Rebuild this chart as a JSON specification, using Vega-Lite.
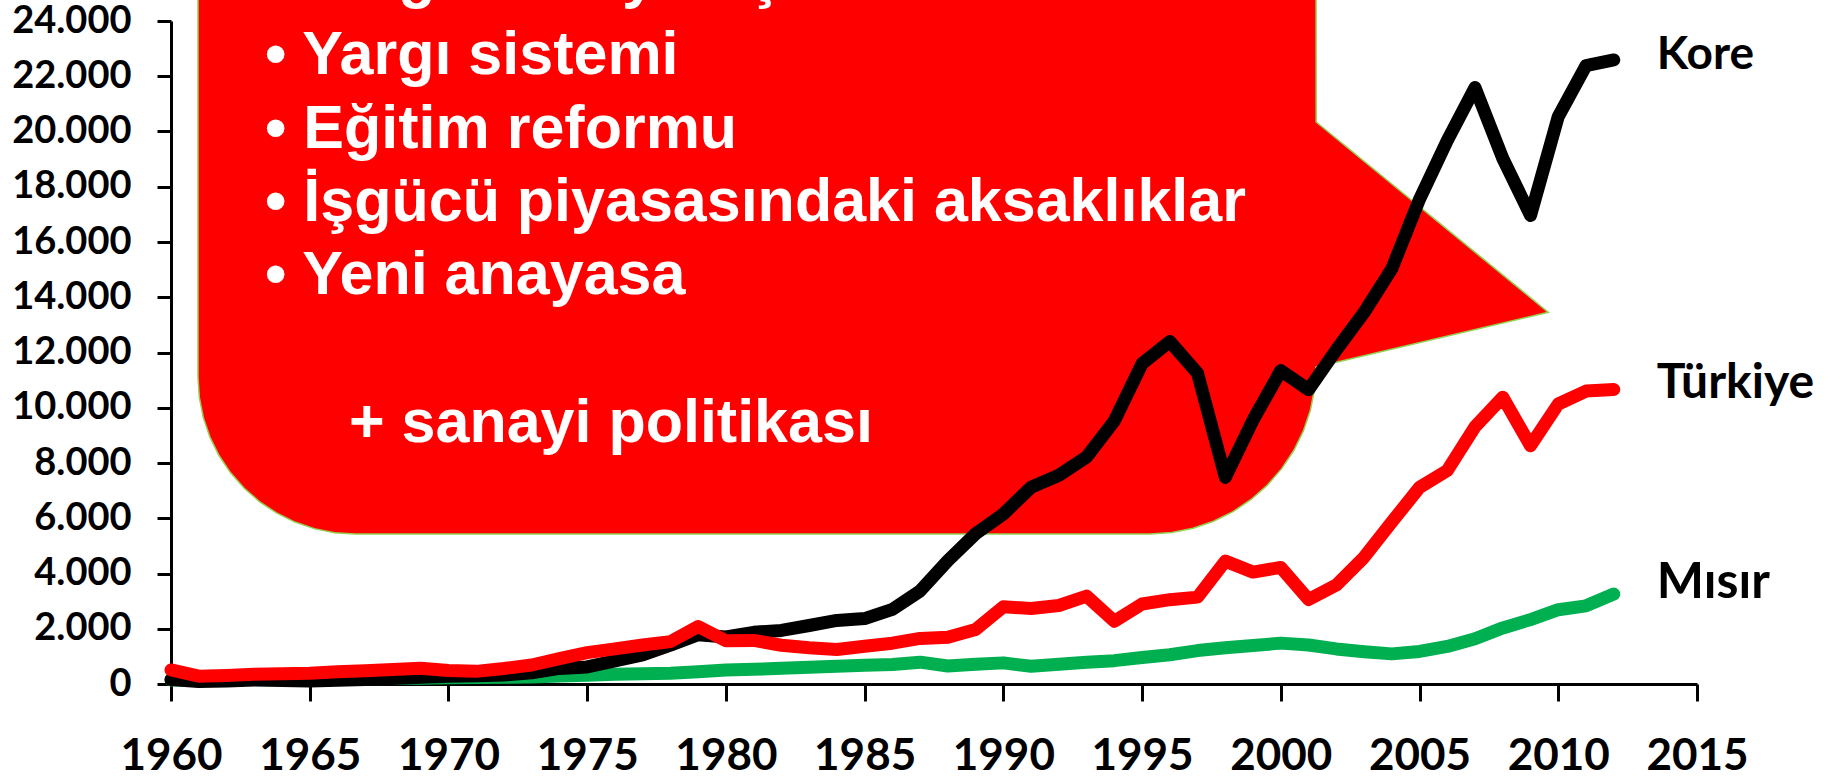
{
  "$schema": "https://vega.github.io/schema/vega-lite/v6.json",
  "autosize": {"type": "none"},
  "width": 1526,
  "height": 663,
  "padding": {"left": 171, "top": 21, "right": 144, "bottom": 93},
  "background": "white",
  "config": {"view": {"stroke": null}},
  "datasets": {
    "gdp": [
      {"year":1960,"kore":158,"turkiye":509,"misir":148},
      {"year":1961,"kore":94,"turkiye":283,"misir":152},
      {"year":1962,"kore":106,"turkiye":309,"misir":154},
      {"year":1963,"kore":146,"turkiye":350,"misir":167},
      {"year":1964,"kore":124,"turkiye":369,"misir":185},
      {"year":1965,"kore":108,"turkiye":386,"misir":200},
      {"year":1966,"kore":133,"turkiye":444,"misir":203},
      {"year":1967,"kore":161,"turkiye":481,"misir":193},
      {"year":1968,"kore":197,"turkiye":526,"misir":196},
      {"year":1969,"kore":244,"turkiye":571,"misir":211},
      {"year":1970,"kore":279,"turkiye":489,"misir":225},
      {"year":1971,"kore":301,"turkiye":458,"misir":234},
      {"year":1972,"kore":323,"turkiye":561,"misir":246},
      {"year":1973,"kore":406,"turkiye":689,"misir":254},
      {"year":1974,"kore":563,"turkiye":918,"misir":285},
      {"year":1975,"kore":617,"turkiye":1136,"misir":320},
      {"year":1976,"kore":834,"turkiye":1272,"misir":350},
      {"year":1977,"kore":1055,"turkiye":1413,"misir":370},
      {"year":1978,"kore":1405,"turkiye":1535,"misir":385},
      {"year":1979,"kore":1783,"turkiye":2080,"misir":440},
      {"year":1980,"kore":1704,"turkiye":1564,"misir":510},
      {"year":1981,"kore":1870,"turkiye":1579,"misir":530},
      {"year":1982,"kore":1939,"turkiye":1402,"misir":570},
      {"year":1983,"kore":2118,"turkiye":1310,"misir":610},
      {"year":1984,"kore":2300,"turkiye":1248,"misir":645},
      {"year":1985,"kore":2368,"turkiye":1368,"misir":680},
      {"year":1986,"kore":2703,"turkiye":1477,"misir":705},
      {"year":1987,"kore":3368,"turkiye":1649,"misir":790},
      {"year":1988,"kore":4465,"turkiye":1690,"misir":650},
      {"year":1989,"kore":5438,"turkiye":1975,"misir":715},
      {"year":1990,"kore":6153,"turkiye":2794,"misir":765},
      {"year":1991,"kore":7123,"turkiye":2735,"misir":640},
      {"year":1992,"kore":7557,"turkiye":2842,"misir":715},
      {"year":1993,"kore":8217,"turkiye":3180,"misir":785},
      {"year":1994,"kore":9525,"turkiye":2270,"misir":845},
      {"year":1995,"kore":11600,"turkiye":2897,"misir":960},
      {"year":1996,"kore":12398,"turkiye":3053,"misir":1060},
      {"year":1997,"kore":11246,"turkiye":3144,"misir":1210},
      {"year":1998,"kore":7477,"turkiye":4448,"misir":1310},
      {"year":1999,"kore":9555,"turkiye":4050,"misir":1390},
      {"year":2000,"kore":11347,"turkiye":4220,"misir":1480},
      {"year":2001,"kore":10655,"turkiye":3060,"misir":1410},
      {"year":2002,"kore":12094,"turkiye":3581,"misir":1270},
      {"year":2003,"kore":13451,"turkiye":4587,"misir":1170},
      {"year":2004,"kore":15029,"turkiye":5862,"misir":1090},
      {"year":2005,"kore":17551,"turkiye":7117,"misir":1180},
      {"year":2006,"kore":19676,"turkiye":7728,"misir":1360},
      {"year":2007,"kore":21590,"turkiye":9312,"misir":1640},
      {"year":2008,"kore":19028,"turkiye":10382,"misir":2030},
      {"year":2009,"kore":16959,"turkiye":8626,"misir":2330},
      {"year":2010,"kore":20540,"turkiye":10136,"misir":2690},
      {"year":2011,"kore":22388,"turkiye":10605,"misir":2830},
      {"year":2012,"kore":22590,"turkiye":10661,"misir":3256}
    ],
    "callout": [
      {"x":1960.973,"top":25000,"bottom":11113},
      {"x":1961.021,"top":25000,"bottom":10371},
      {"x":1961.166,"top":25000,"bottom":9642},
      {"x":1961.404,"top":25000,"bottom":8938},
      {"x":1961.731,"top":25000,"bottom":8271},
      {"x":1962.142,"top":25000,"bottom":7653},
      {"x":1962.632,"top":25000,"bottom":7094},
      {"x":1963.187,"top":25000,"bottom":6604},
      {"x":1963.803,"top":25000,"bottom":6191},
      {"x":1964.466,"top":25000,"bottom":5862},
      {"x":1965.167,"top":25000,"bottom":5624},
      {"x":1965.893,"top":25000,"bottom":5478},
      {"x":1966.632,"top":25000,"bottom":5430},
      {"x":1995.286,"top":25000,"bottom":5430},
      {"x":1996.067,"top":25000,"bottom":5482},
      {"x":1996.834,"top":25000,"bottom":5636},
      {"x":1997.575,"top":25000,"bottom":5890},
      {"x":1998.277,"top":25000,"bottom":6240},
      {"x":1998.928,"top":25000,"bottom":6679},
      {"x":1999.516,"top":25000,"bottom":7200},
      {"x":2000.032,"top":25000,"bottom":7795},
      {"x":2000.467,"top":25000,"bottom":8452},
      {"x":2000.813,"top":25000,"bottom":9162},
      {"x":2001.065,"top":25000,"bottom":9911},
      {"x":2001.218,"top":25000,"bottom":10686},
      {"x":2001.269,"top":25000,"bottom":11475},
      {"x":2001.273,"top":20344,"bottom":11475},
      {"x":2009.641,"top":13455,"bottom":13455}
    ],
    "calloutText": [
      {"x":1963.388,"y":24900,"t":"• Vergi ve kayıtdışılık"},
      {"x":1963.388,"y":22081,"t":"• Yargı sistemi"},
      {"x":1963.388,"y":19413,"t":"• Eğitim reformu"},
      {"x":1963.388,"y":16771,"t":"• İşgücü piyasasındaki aksaklıklar"},
      {"x":1963.388,"y":14118,"t":"• Yeni anayasa"},
      {"x":1966.416,"y":8760,"t":"+ sanayi politikası"}
    ],
    "labels": [
      {"x":2013.55,"y":22262,"label":"Kore"},
      {"x":2013.55,"y":10342,"label":"Türkiye"},
      {"x":2013.55,"y":3102,"label":"Mısır"}
    ]
  },
  "layer": [
    {
      "data": {"name": "callout"},
      "mark": {"type": "area", "fill": "#FF0000", "stroke": "#92D050", "strokeWidth": 1.5, "interpolate": "linear"},
      "encoding": {
        "x": {
          "field": "x", "type": "quantitative", "title": null,
          "scale": {"domain": [1960, 2015], "nice": false, "zero": false},
          "axis": {
            "values": [1960,1965,1970,1975,1980,1985,1990,1995,2000,2005,2010,2015],
            "format": "d", "grid": false, "labelFlush": false,
            "labelFont": "Lato", "labelFontWeight": "bold", "labelFontSize": 44, "labelColor": "black",
            "labelPadding": 33, "tickSize": 17, "tickWidth": 3, "tickColor": "black",
            "domainWidth": 3, "domainColor": "black", "labelOverlap": false
          }
        },
        "y": {
          "field": "top", "type": "quantitative", "title": null,
          "scale": {"domain": [0, 24000], "nice": false, "zero": true},
          "axis": {
            "values": [0,2000,4000,6000,8000,10000,12000,14000,16000,18000,20000,22000,24000],
            "labelExpr": "replace(format(datum.value, ','), ',', '.')",
            "grid": false, "labelFlush": false,
            "labelFont": "Lato", "labelFontWeight": "bold", "labelFontSize": 38, "labelColor": "black",
            "labelPadding": 26, "tickSize": 14, "tickWidth": 3, "tickColor": "black",
            "domainWidth": 3, "domainColor": "black", "labelOverlap": false
          }
        },
        "y2": {"field": "bottom"}
      }
    },
    {
      "data": {"name": "gdp"},
      "mark": {"type": "line", "color": "#00B050", "strokeWidth": 13, "strokeCap": "round", "strokeJoin": "round"},
      "encoding": {
        "x": {"field": "year", "type": "quantitative", "title": null},
        "y": {"field": "misir", "type": "quantitative", "title": null}
      }
    },
    {
      "data": {"name": "gdp"},
      "mark": {"type": "line", "color": "#000000", "strokeWidth": 13, "strokeCap": "round", "strokeJoin": "round"},
      "encoding": {
        "x": {"field": "year", "type": "quantitative", "title": null},
        "y": {"field": "kore", "type": "quantitative", "title": null}
      }
    },
    {
      "data": {"name": "gdp"},
      "mark": {"type": "line", "color": "#FF0000", "strokeWidth": 13, "strokeCap": "round", "strokeJoin": "round"},
      "encoding": {
        "x": {"field": "year", "type": "quantitative", "title": null},
        "y": {"field": "turkiye", "type": "quantitative", "title": null}
      }
    },
    {
      "data": {"name": "calloutText"},
      "mark": {"type": "text", "font": "Liberation Sans", "fontWeight": "bold", "fontSize": 61, "color": "white", "align": "left", "baseline": "alphabetic"},
      "encoding": {
        "x": {"field": "x", "type": "quantitative", "title": null},
        "y": {"field": "y", "type": "quantitative", "title": null},
        "text": {"field": "t"}
      }
    },
    {
      "data": {"name": "labels"},
      "mark": {"type": "text", "font": "Lato", "fontWeight": "bold", "color": "black", "align": "left", "baseline": "alphabetic"},
      "encoding": {
        "x": {"field": "x", "type": "quantitative", "title": null},
        "y": {"field": "y", "type": "quantitative", "title": null},
        "text": {"field": "label"},
        "size": {"field": "label", "type": "nominal", "scale": {"domain": ["Kore", "Türkiye", "Mısır"], "range": [46, 50, 45]}, "legend": null}
      }
    }
  ]
}
